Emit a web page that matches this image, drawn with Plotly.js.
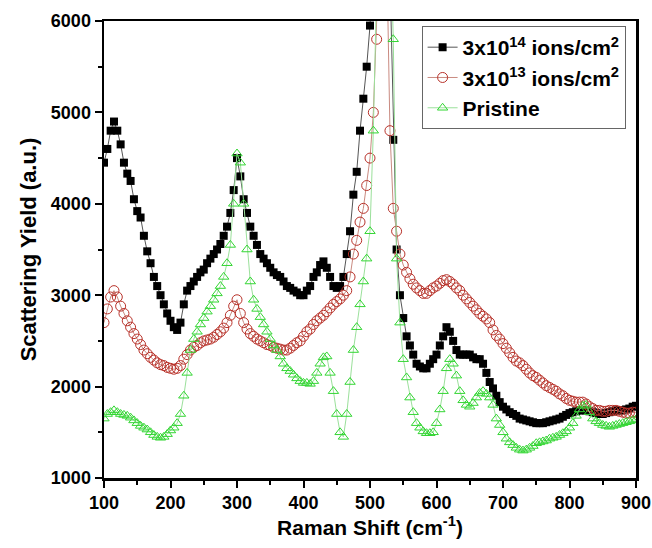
<!DOCTYPE html>
<html>
<head>
<meta charset="utf-8">
<script src="https://cdn.plot.ly/plotly-3.0.1.min.js"></script>
<style>html,body{margin:0;padding:0;background:#fff;}#chart{width:652px;height:548px;}</style>
</head>
<body>
<div id="chart"></div>
<script>
var ramanShift = [100,105,110,115,120,125,130,135,140,145,150,155,160,165,170,175,180,185,190,195,
200,205,210,215,220,225,230,235,240,245,250,255,260,265,270,275,280,285,290,295,
300,305,310,315,320,325,330,335,340,345,350,355,360,365,370,375,380,385,390,395,
400,405,410,415,420,425,430,435,440,445,450,455,460,465,470,475,480,485,490,495,
500,505,510,515,520,525,530,535,540,545,550,555,560,565,570,575,580,585,590,595,
600,605,610,615,620,625,630,635,640,645,650,655,660,665,670,675,680,685,690,695,
700,705,710,715,720,725,730,735,740,745,750,755,760,765,770,775,780,785,790,795,
800,805,810,815,820,825,830,835,840,845,850,855,860,865,870,875,880,885,890,895,900];

var yield3e14 = [4450,4600,4800,4900,4800,4650,4450,4330,4250,4050,3920,3850,3650,3480,3350,3200,3100,3000,2900,2800,
2720,2650,2620,2700,2900,3050,3100,3150,3200,3250,3280,3350,3400,3450,3500,3560,3650,3750,3900,4150,
4500,4300,4050,3900,3750,3650,3550,3450,3400,3350,3300,3250,3220,3200,3150,3100,3080,3050,3030,3000,
3000,3050,3100,3200,3250,3330,3370,3300,3200,3100,3080,3100,3200,3450,3700,4100,4350,4800,5150,5500,
5950,6500,7500,8500,9000,8000,6500,4700,3500,3000,2750,2550,2450,2350,2250,2220,2200,2200,2250,2300,
2350,2450,2550,2650,2600,2500,2400,2350,2350,2350,2350,2320,2300,2300,2250,2150,2050,1980,1900,1830,
1780,1750,1720,1700,1680,1650,1640,1630,1620,1610,1600,1600,1600,1610,1620,1630,1640,1650,1670,1690,
1710,1720,1730,1740,1740,1740,1730,1720,1710,1700,1700,1710,1720,1730,1740,1740,1740,1750,1760,1780,1790];

var yield3e13 = [2700,2850,2980,3050,2980,2880,2800,2720,2650,2580,2520,2460,2400,2360,2320,2290,2260,2240,2230,2210,
2200,2190,2200,2230,2300,2350,2400,2430,2450,2480,2500,2510,2520,2540,2570,2600,2640,2700,2780,2880,
2950,2800,2700,2630,2580,2550,2520,2500,2480,2460,2450,2430,2420,2410,2400,2400,2420,2450,2480,2500,
2550,2600,2630,2680,2720,2750,2780,2820,2860,2900,2930,2960,3000,3050,3200,3450,3600,3800,3950,4200,
4500,5000,5800,7000,8000,6800,4800,3950,3700,3450,3330,3250,3180,3120,3080,3050,3020,3020,3050,3080,
3100,3130,3160,3170,3150,3120,3080,3050,3000,2960,2920,2880,2840,2800,2770,2740,2700,2620,2560,2520,
2470,2420,2370,2320,2280,2260,2230,2190,2150,2120,2100,2070,2040,2010,1990,1970,1950,1920,1900,1870,
1850,1840,1830,1830,1830,1810,1780,1760,1740,1740,1730,1730,1740,1740,1740,1730,1720,1710,1710,1720,1720];

var yieldPristine = [1650,1700,1720,1740,1720,1700,1690,1680,1660,1630,1600,1570,1550,1530,1500,1470,1450,1440,1450,1480,
1520,1550,1600,1700,1900,2150,2400,2520,2600,2680,2750,2820,2880,2950,3020,3100,3200,3350,3550,4000,
4550,4450,4000,3500,3150,2950,2850,2760,2680,2600,2520,2450,2400,2330,2250,2200,2170,2130,2090,2060,
2040,2040,2030,2060,2150,2250,2320,2330,2150,1950,1700,1500,1450,1700,2050,2400,2650,2900,3150,3400,
3700,4800,6200,8500,9500,8500,7000,5800,3400,2700,2300,2100,1880,1720,1600,1550,1510,1490,1490,1500,
1600,1750,1950,2200,2300,2250,2120,1950,1850,1800,1780,1820,1880,1930,1950,1920,1880,1800,1650,1580,
1500,1430,1390,1360,1330,1310,1300,1310,1330,1350,1380,1390,1400,1410,1430,1440,1450,1470,1490,1510,
1550,1600,1680,1750,1790,1800,1720,1650,1620,1600,1580,1570,1560,1570,1580,1590,1600,1610,1620,1630,1640];

var seriesNames = ['3x10<sup>14</sup> ions/cm<sup>2</sup>', '3x10<sup>13</sup> ions/cm<sup>2</sup>', 'Pristine'];
var xTitle = 'Raman Shift (cm<sup>-1</sup>)';
var yTitle = 'Scattering Yield (a.u.)';

var FONT = 'Liberation Sans, Arial, sans-serif';

var traces = [
  {x: ramanShift, y: yield3e14, name: seriesNames[0], type: 'scatter', mode: 'lines+markers',
   line: {color: '#555555', width: 1},
   marker: {symbol: 'square', size: 8, color: '#000000'}},
  {x: ramanShift, y: yield3e13, name: seriesNames[1], type: 'scatter', mode: 'lines+markers',
   line: {color: '#c98a80', width: 1},
   marker: {symbol: 'circle-open', size: 10, color: '#b8322a', line: {width: 1}}},
  {x: ramanShift, y: yieldPristine, name: seriesNames[2], type: 'scatter', mode: 'lines+markers',
   line: {color: '#9be09b', width: 1},
   marker: {symbol: 'triangle-up-open', size: 9, color: '#33d633', line: {width: 1}}}
];

var axisCommon = {
  showline: true, linecolor: '#000', linewidth: 2.5, mirror: true,
  showgrid: false, zeroline: false,
  ticks: 'outside', ticklen: 7, tickwidth: 2, tickcolor: '#000',
  ticklabeloverflow: 'allow',
  tickfont: {family: FONT, size: 18, color: '#000', weight: 700}
};

var layout = {
  width: 652, height: 548,
  margin: {l: 104, r: 16, t: 21, b: 70},
  paper_bgcolor: '#fff', plot_bgcolor: '#fff',
  showlegend: true,
  legend: {x: 0.597, y: 0.989, xanchor: 'left', yanchor: 'top',
    bordercolor: '#666', borderwidth: 1, bgcolor: '#fff',
    font: {family: FONT, size: 21, color: '#000', weight: 700},
    tracegroupgap: 0},
  xaxis: Object.assign({}, axisCommon, {
    range: [100, 900], dtick: 100, tick0: 100,
    minor: {dtick: 50, ticks: 'outside', ticklen: 4, tickwidth: 2, tickcolor: '#000'},
    title: {text: xTitle, font: {family: FONT, size: 21, color: '#000', weight: 700}, standoff: 6}
  }),
  yaxis: Object.assign({}, axisCommon, {
    range: [1000, 6000], dtick: 1000, tick0: 1000,
    minor: {dtick: 500, ticks: 'outside', ticklen: 4, tickwidth: 2, tickcolor: '#000'},
    title: {text: yTitle, font: {family: FONT, size: 22, color: '#000', weight: 700}, standoff: 8}
  })
};

Plotly.newPlot('chart', traces, layout, {displayModeBar: false, staticPlot: true});
</script>
</body>
</html>
